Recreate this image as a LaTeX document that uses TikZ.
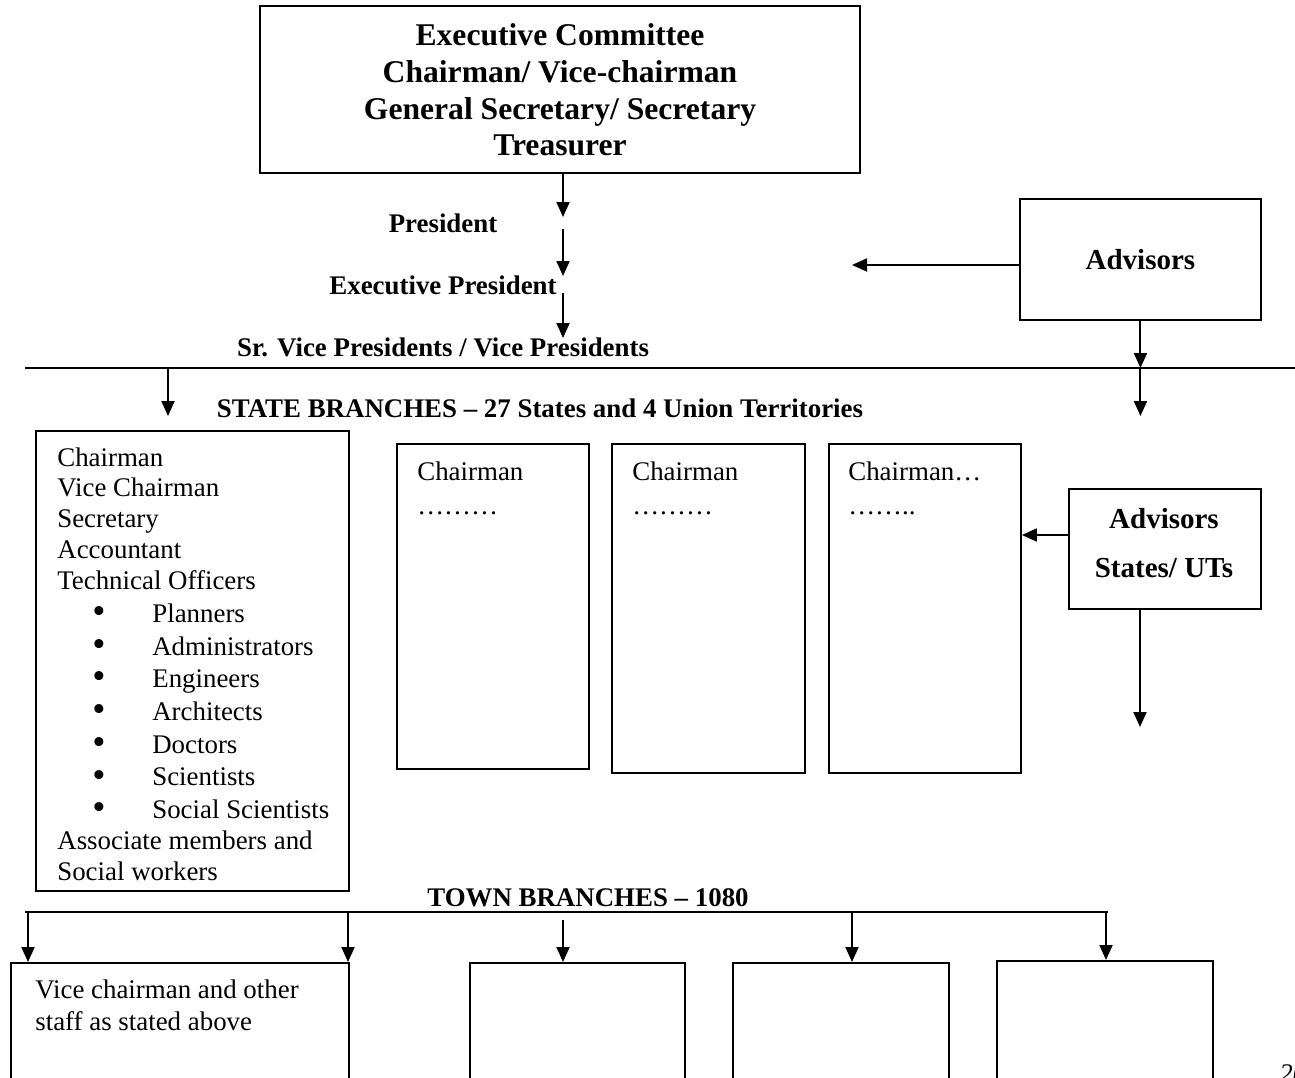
\documentclass[tikz,border=0pt]{standalone}
\usepackage{fontspec}
\usepackage{graphicx}
\setmainfont{Liberation Serif}
\usetikzlibrary{arrows.meta,positioning,calc}
\tikzset{
  framebox/.style={
    rectangle, draw=black, line width=1.1pt, inner sep=0pt,
    anchor=north west
  },
  headtext/.style={
    font=\fontsize{18}{20.8}\selectfont\bfseries, align=center, inner sep=0pt
  },
  ranktext/.style={
    font=\fontsize{15.3}{17.6}\selectfont\bfseries, inner sep=0pt
  },
  bodytext/.style={
    font=\fontsize{15.3}{17.6}\selectfont, align=left, inner sep=0pt,
    anchor=north west
  },
  advtext/.style={
    font=\fontsize{16.5}{28}\selectfont\bfseries, align=center
  },
  flowarrow/.style={
    -{Triangle[length=0.3cm, width=0.26cm]}, line width=1.1pt
  },
  ruleline/.style={line width=1.1pt},
}
\newcommand{\bul}[1]{\hspace*{0.7cm}\makebox[1.2cm][l]{\smash{\raisebox{-0.1ex}{\scalebox{1.4}{\textbullet}}}}#1}

\begin{document}
\begin{tikzpicture}[x=0.02cm, y=-0.02cm]
\useasboundingbox (0,0) rectangle (1295,1078);
\clip (0,0) rectangle (1295,1078);

% Executive committee on top
\node[framebox, minimum width=12cm, minimum height=3.34cm] (exec) at (259,5) {};
\node[headtext] (exect) at (560,90)
  {Executive Committee\\ Chairman/ Vice-chairman\\ General Secretary/ Secretary\\ Treasurer};

% Ranks under the committee
\node[ranktext] (pres) at (443,223) {President};
\node[ranktext] (expres) at (443,285) {Executive President};
\node[ranktext] (vpres) at (443,347) {Sr. Vice Presidents / Vice Presidents};

\coordinate (p1) at (563,217);
\coordinate (p2) at (563,229);
\coordinate (p3) at (563,276);
\coordinate (p4) at (563,293);
\coordinate (p5) at (563,338);
\draw[flowarrow] (exec.south -| p1) -- (p1);
\draw[flowarrow] (p2) -- (p3);
\draw[flowarrow] (p4) -- (p5);

% Advisors
\node[framebox, minimum width=4.82cm, minimum height=2.42cm,
  font=\fontsize{16.5}{20}\selectfont\bfseries] (adv) at (1019,198) {\raisebox{-3pt}{Advisors}};
\coordinate (advin) at (852,265);
\draw[flowarrow] (adv.west |- advin) -- (advin);

% Dividing line
\coordinate (stateW) at (25,368);
\coordinate (stateE) at (1295,368);
\draw[ruleline] (stateW) -- (stateE);
\coordinate (advdown) at (0,416);
\draw[flowarrow] (adv.south) -- (adv.south |- stateW);
\draw[flowarrow] (adv.south |- stateW) -- (adv.south |- advdown);
\coordinate (lstdown) at (168,416);
\draw[flowarrow] (stateW -| lstdown) -- (lstdown);

\node[ranktext] (statehead) at (540,408)
  {STATE BRANCHES – 27 States and 4 Union Territories};

% State branch boxes
\node[framebox, minimum width=6.26cm, minimum height=9.2cm] (sb) at (35,430) {};
\node[bodytext] (sbt) at (57,447)
  {Chairman\\ Vice Chairman\\ Secretary\\ Accountant\\ Technical Officers\\[1pt]
   \bul{Planners}\\[1pt] \bul{Administrators}\\[1pt] \bul{Engineers}\\[1pt]
   \bul{Architects}\\[1pt] \bul{Doctors}\\[1pt] \bul{Scientists}\\[1pt]
   \bul{Social Scientists}\\ Associate members and\\ Social workers};

\node[framebox, minimum width=3.84cm, minimum height=6.5cm] (cb1) at (396,443) {};
\node[framebox, minimum width=3.86cm, minimum height=6.58cm] (cb2) at (611,443) {};
\node[framebox, minimum width=3.84cm, minimum height=6.58cm] (cb3) at (828,443) {};
\node[bodytext] (cb1t) at (417,461) {Chairman\\[2pt] ………};
\node[bodytext] (cb2t) at (632,461) {Chairman\\[2pt] ………};
\node[bodytext] (cb3t) at (848,461) {Chairman…\\[2pt] ……..};

% Advisors for states
\node[framebox, minimum width=3.84cm, minimum height=2.4cm] (advst) at (1068,488) {};
\node[advtext, inner sep=0pt] (advstt) at (1164,543) {Advisors\\ States/ UTs};
\coordinate (stin) at (0,535);
\draw[flowarrow] (advst.west |- stin) -- (cb3.east |- stin);
\coordinate (stdown) at (1140,727);
\draw[flowarrow] (advst.south -| stdown) -- (stdown);

% Town branches
\node[ranktext] (townhead) at (588,898) {TOWN BRANCHES – 1080};
\coordinate (townW) at (25,912);
\coordinate (townE) at (1108,912);
\draw[ruleline] (townW) -- (townE);

\node[framebox, minimum width=6.76cm, minimum height=4cm] (tb1) at (10,962) {};
\node[framebox, minimum width=4.3cm, minimum height=4cm] (tb2) at (469,962) {};
\node[framebox, minimum width=4.32cm, minimum height=4cm] (tb3) at (732,962) {};
\node[framebox, minimum width=4.32cm, minimum height=4cm] (tb4) at (996,960) {};
\node[bodytext] (tb1t) at (35,979) {Vice chairman and other\\[1pt] staff as stated above};

\foreach \xx/\tgt in {28/tb1, 348/tb1, 852/tb3, 1106/tb4}
  \draw[flowarrow] (townW -| \xx,0) -- (\tgt.north -| \xx,0);
\coordinate (townmid) at (563,920);
\draw[flowarrow] (townmid) -- (tb2.north -| townmid);

% page number, cut at the edge
\node[anchor=north west, inner sep=0pt, font=\fontsize{15.3}{17.6}\selectfont\itshape]
  (pageno) at (1279,1064) {20};

\end{tikzpicture}
\end{document}
